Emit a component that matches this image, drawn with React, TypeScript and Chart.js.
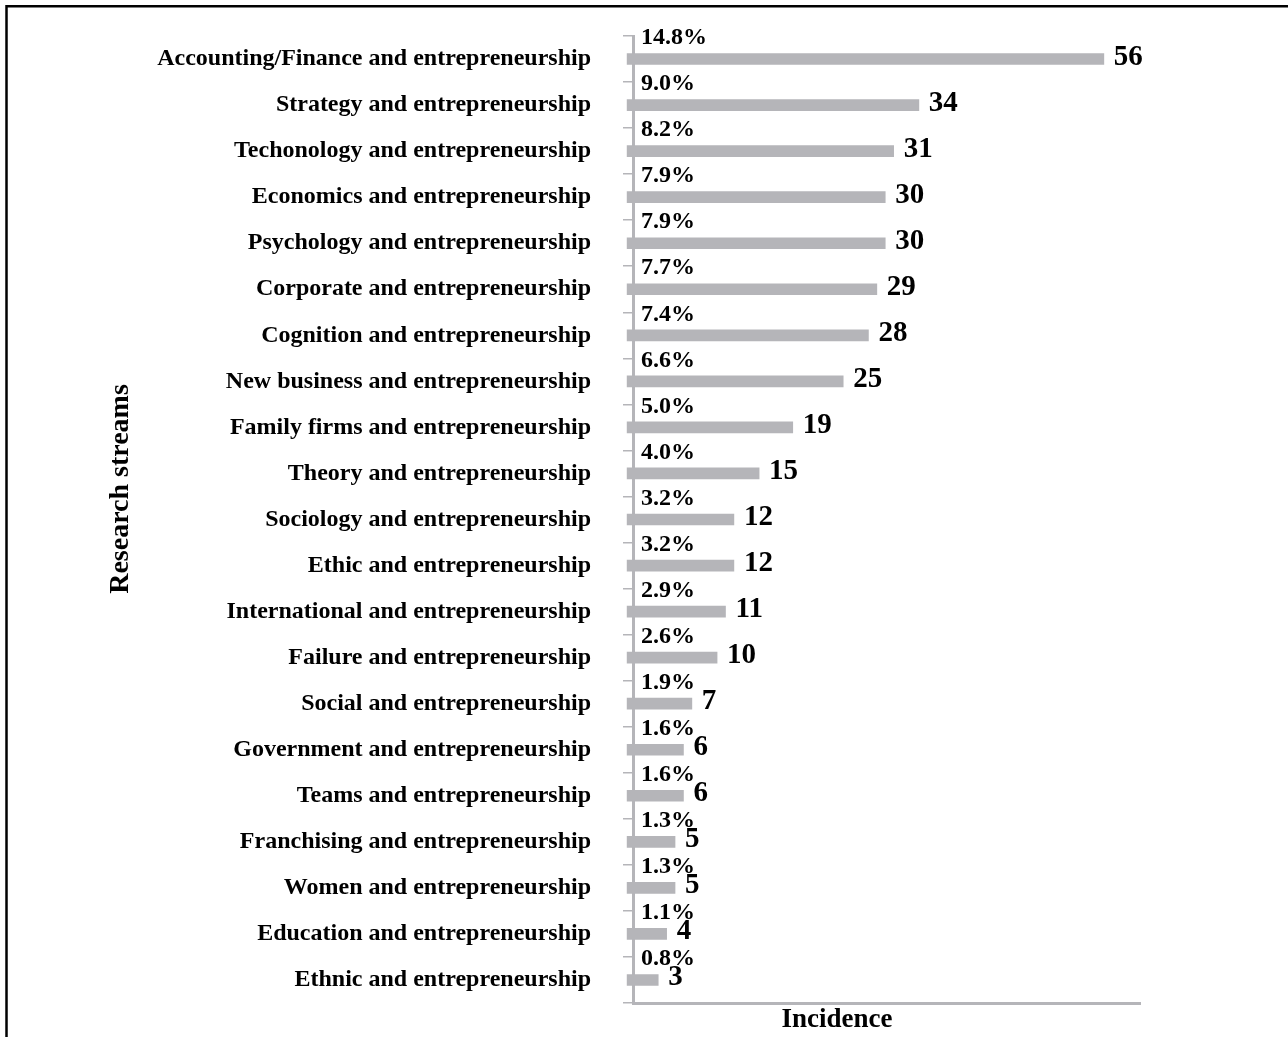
import React, { useEffect, useRef } from "react";
import { Chart, registerables } from "chart.js";

Chart.register(...registerables);

const categories: string[] = [
  "Accounting/Finance and entrepreneurship",
  "Strategy and entrepreneurship",
  "Techonology and entrepreneurship",
  "Economics and entrepreneurship",
  "Psychology and entrepreneurship",
  "Corporate and entrepreneurship",
  "Cognition and entrepreneurship",
  "New business and entrepreneurship",
  "Family firms and entrepreneurship",
  "Theory and entrepreneurship",
  "Sociology and entrepreneurship",
  "Ethic and entrepreneurship",
  "International and entrepreneurship",
  "Failure and entrepreneurship",
  "Social and entrepreneurship",
  "Government and entrepreneurship",
  "Teams and entrepreneurship",
  "Franchising and entrepreneurship",
  "Women and entrepreneurship",
  "Education and entrepreneurship",
  "Ethnic and entrepreneurship",
];

const incidence: number[] = [56, 34, 31, 30, 30, 29, 28, 25, 19, 15, 12, 12, 11, 10, 7, 6, 6, 5, 5, 4, 3];

const percentLabels: string[] = [
  "14.8%", "9.0%", "8.2%", "7.9%", "7.9%", "7.7%", "7.4%", "6.6%", "5.0%", "4.0%",
  "3.2%", "3.2%", "2.9%", "2.6%", "1.9%", "1.6%", "1.6%", "1.3%", "1.3%", "1.1%", "0.8%",
];

const xAxisTitle = "Incidence";
const yAxisTitle = "Research streams";

const FONT = "'Liberation Serif', 'Times New Roman', serif";
const GRAY = "#b5b5b9";

const labelPlugin = {
  id: "labelPlugin",
  afterDatasetsDraw(chart: any) {
    const ctx = chart.ctx;
    const meta = chart.getDatasetMeta(0);
    const xScale = chart.scales.x;
    const zeroX = xScale.getPixelForValue(0);
    ctx.save();
    meta.data.forEach((bar: any, i: number) => {
      ctx.fillStyle = "#000";
      ctx.textAlign = "left";
      ctx.textBaseline = "middle";
      ctx.font = `bold 24px ${FONT}`;
      ctx.fillText(percentLabels[i], zeroX + 8, bar.y - 21);
      ctx.font = `bold 29px ${FONT}`;
      ctx.fillText(String(incidence[i]), bar.x + 10, bar.y - 2);
    });
    ctx.restore();
  },
  afterDraw(chart: any) {
    const ctx = chart.ctx;
    const area = chart.chartArea;
    ctx.save();
    ctx.strokeStyle = "#000";
    ctx.lineWidth = 2.5;
    ctx.beginPath();
    ctx.moveTo(6.5, chart.height);
    ctx.lineTo(6.5, 6.25);
    ctx.lineTo(chart.width, 6.25);
    ctx.stroke();
    ctx.fillStyle = "#000";
    ctx.textAlign = "center";
    ctx.textBaseline = "middle";
    ctx.font = `bold 27px ${FONT}`;
    ctx.fillText(xAxisTitle, area.left + 204, area.bottom + 17);
    ctx.font = `bold 28px ${FONT}`;
    ctx.translate(121, area.top + 453);
    ctx.rotate(-Math.PI / 2);
    ctx.fillText(yAxisTitle, 0, 0);
    ctx.restore();
  },
};

export default function App() {
  const canvasRef = useRef<HTMLCanvasElement | null>(null);

  useEffect(() => {
    document.body.style.margin = "0";
    const canvas = canvasRef.current;
    if (!canvas) return;
    const chart = new Chart(canvas, {
      type: "bar",
      data: {
        labels: categories,
        datasets: [
          {
            data: incidence,
            backgroundColor: GRAY,
            borderWidth: 0,
            barThickness: 11,
            base: -0.7,
            clip: false,
          } as any,
        ],
      },
      options: {
        indexAxis: "y",
        responsive: false,
        animation: false,
        devicePixelRatio: 1,
        layout: { padding: { left: 0, right: 148, top: 36, bottom: 34 } },
        plugins: {
          legend: { display: false },
          tooltip: { enabled: false },
          title: { display: false },
        },
        scales: {
          x: {
            type: "linear",
            min: 0,
            max: 60.3,
            ticks: { display: false },
            grid: { display: false, drawTicks: false },
            border: { display: true, color: GRAY, width: 3 },
            afterFit: (scale: any) => {
              scale.height = 0;
              scale.paddingLeft = 0;
              scale.paddingRight = 0;
            },
          },
          y: {
            type: "category",
            ticks: {
              color: "#000",
              font: { family: FONT, size: 24, weight: "bold" },
              padding: 32,
              autoSkip: false,
            },
            grid: {
              display: true,
              drawOnChartArea: false,
              drawTicks: true,
              tickLength: 10,
              color: GRAY,
              lineWidth: 1.5,
              offset: true,
            },
            border: { display: true, color: GRAY, width: 3 },
            afterFit: (scale: any) => {
              scale.width = 633;
              scale.paddingTop = 0;
              scale.paddingBottom = 0;
            },
          },
        },
      },
      plugins: [labelPlugin],
    });
    return () => chart.destroy();
  }, []);

  return (
    <div style={{ width: 1288, height: 1037, background: "#fff" }}>
      <canvas ref={canvasRef} width={1288} height={1037} style={{ display: "block" }} />
    </div>
  );
}
